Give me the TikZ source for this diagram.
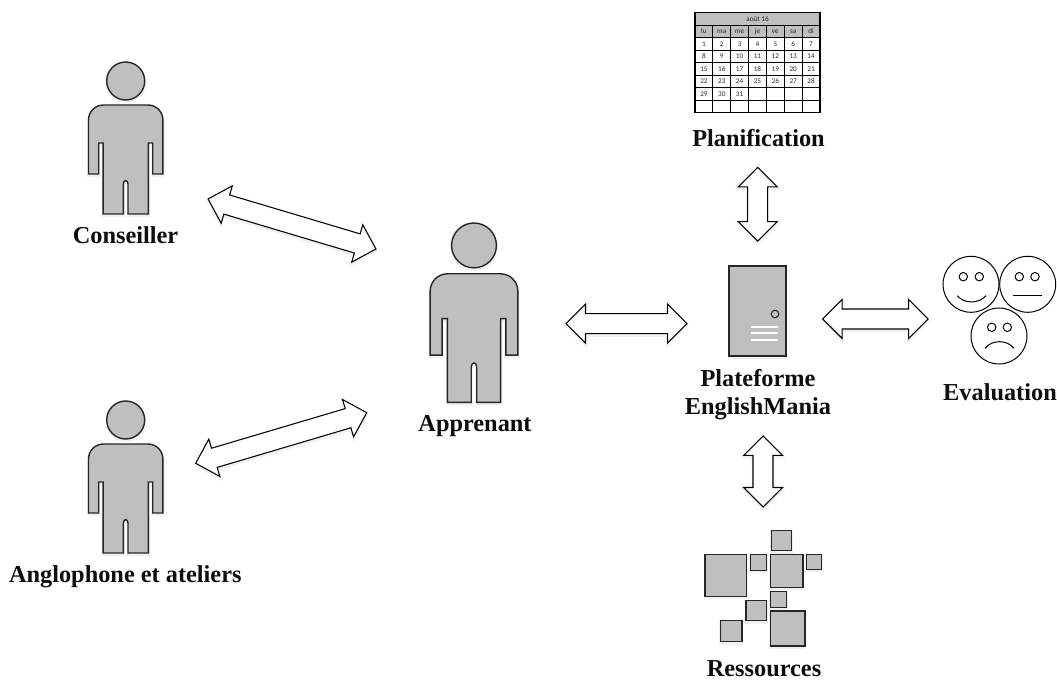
\documentclass[tikz,border=0pt]{standalone}
\usepackage{fontspec}
\setmainfont{Liberation Serif}
\newfontfamily\calfont{Carlito}
\usetikzlibrary{shapes.arrows}
\definecolor{shapegrey}{HTML}{BFBFBF}
\definecolor{edgegrey}{HTML}{262626}
\definecolor{glow}{HTML}{A9BDD8}
\tikzset{
  softshadow/.style={preaction={draw=glow,fill=none,draw opacity=.2,line width=2.2pt,transform canvas={yshift=-1.3pt}}},
  lbl/.style={font=\bfseries\fontsize{18.25}{21.2}\selectfont,inner sep=0pt,text=black!95,anchor=base},
  blockarrow/.style={shape=double arrow,draw=black,fill=white,line width=0.8pt,inner xsep=0pt,inner ysep=7.1pt,
    double arrow tip angle=90,double arrow head extend=7.1pt,minimum width=28.2pt,anchor=center,softshadow},
  greybox/.style={draw=edgegrey,fill=shapegrey,line width=1.05pt,softshadow},
  cal/.style={draw=black,line width=0.8pt},
  calt/.style={font=\calfont\fontsize{5.4}{6}\selectfont,text=black!85,inner sep=0pt},
  face/.style={draw=black,fill=white,line width=0.75pt},
  pics/person/.style={code={
    \draw[greybox] (0,19) circle[radius=19];
    \draw[greybox,line join=miter] (-22,43) -- (22,43) .. controls (31,43) and (37.2,50) .. (37.2,58)
      -- (37.2,112) -- (27,112) -- (27,81) -- (22.6,81) -- (22.6,152) -- (2.3,152) -- (2.3,122)
      .. controls (2.3,117.5) and (-2.3,117.5) .. (-2.3,122) -- (-2.3,152) -- (-22.6,152) -- (-22.6,81)
      -- (-27,81) -- (-27,112) -- (-37.2,112) -- (-37.2,58) .. controls (-37.2,50) and (-31,43) .. (-22,43) -- cycle;
  }}
}
\begin{document}
\begin{tikzpicture}[x=0.75pt,y=-0.75pt]
\useasboundingbox (0,0) rectangle (1057,680);
% people
\pic at (125.7,62) {person};
\pic at (125.7,401) {person};
\pic[scale=1.18] at (474,223) {person};
\node[lbl] (conseiller) at (125.5,244) {Conseiller};
\node[lbl] (anglophone) at (125.3,583) {Anglophone et ateliers};
\node[lbl] (apprenant) at (475,432) {Apprenant};
% calendar
\fill[shapegrey] (695,12.7) rectangle (820,37.7);
\draw[cal] (695,12.7) rectangle (820,112.7);
\foreach \i in {1,...,7} \draw[cal] (695,12.7+12.5*\i) -- (820,12.7+12.5*\i);
\foreach \i in {1,...,6} \draw[cal] (695+17.857*\i,25.2) -- (695+17.857*\i,112.7);
\node[calt] (calmonth) at (757.5,19) {août 16};
\foreach \t [count=\c from 0] in {lu,ma,me,je,ve,sa,di}
  \node[calt] (calh\c) at (703.9+17.857*\c,31.5) {\t};
\foreach \t [count=\n from 0] in {1,...,31}{
  \pgfmathtruncatemacro{\cx}{mod(\n,7)}
  \pgfmathtruncatemacro{\cy}{int(\n/7)}
  \node[calt] (cald\t) at (703.9+17.857*\cx,44+12.5*\cy) {\t};
}
\node[lbl] (planification) at (758.5,146.5) {Planification};
% server
\draw[greybox] (729,266) rectangle (786,356);
\draw[edgegrey,line width=0.8pt] (775,314) circle[radius=3.8];
\foreach \y in {326.7,333.3,340} \draw[white,line width=1.4pt] (751,\y) -- (778,\y);
\node[lbl] (plateforme) at (758,386.7) {Plateforme};
\node[lbl] (englishmania) at (758,415) {EnglishMania};
% faces
\draw[face] (971,284.3) circle[radius=28];
\draw[face] (1027.7,284.3) circle[radius=28];
\draw[face] (999,336) circle[radius=28];
\foreach \x/\y in {963.3/276.7,979.3/276.7,1019.3/276.7,1035/276.7,991.7/327.3,1007.3/327.3}
  \draw[face] (\x,\y) circle[radius=4.2];
\draw[face,fill=none] (957.3,295.7) .. controls (964,304) and (979,304) .. (986,295.7);
\draw[face,fill=none] (1012.7,295.7) -- (1041.7,295.7);
\draw[face,fill=none] (985,348.3) .. controls (992,339.5) and (1007,339.5) .. (1014,348.3);
\node[lbl] (evaluation) at (1000,401) {Evaluation};
% resources
\foreach \a/\b/\c/\d in {771.7/530.7/791.3/550.7,705/554.3/746.3/596.3,750.3/554.3/766.3/570.3,
  770.3/554.3/803/587.3,806.7/554.3/821.7/569.3,770.3/591.3/786.3/607.3,746/600.3/766.3/620.7,
  720.7/620.3/742/641.7,770.3/611/805/646}
  \draw[greybox] (\a,\b) rectangle (\c,\d);
\node[lbl] (ressources) at (764,676.7) {Ressources};
% block arrows
\node[blockarrow,minimum height=131.4pt,rotate=-16.6] (a1) at (292,224) {};
\node[blockarrow,minimum height=133.8pt,rotate=16.5] (a2) at (281.2,438) {};
\node[blockarrow,minimum height=90.75pt] (a3) at (626.5,323.7) {};
\node[blockarrow,minimum height=79pt] (a4) at (875.4,319) {};
\node[blockarrow,minimum height=55.3pt,rotate=90] (a5) at (757.7,204.2) {};
\node[blockarrow,minimum height=53.25pt,rotate=90] (a6) at (763,471.5) {};
\end{tikzpicture}
\end{document}
